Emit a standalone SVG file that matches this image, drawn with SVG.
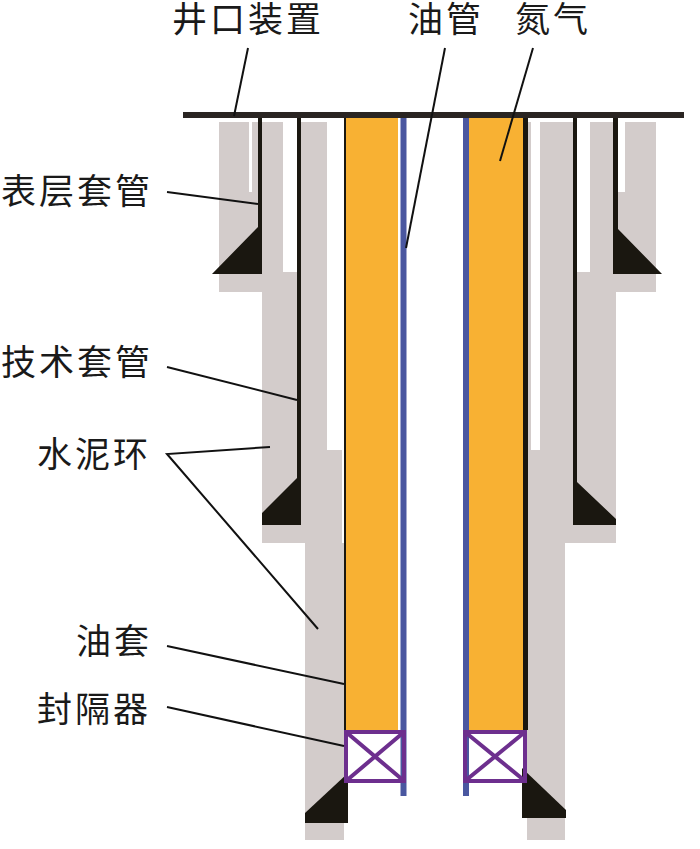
<svg xmlns="http://www.w3.org/2000/svg" width="700" height="849" viewBox="0 0 700 849">
<style>
.g{fill:#d3cccb}.o{fill:#f8b133}.b{fill:#4a57a0}.k{fill:#1a1710}
.p{fill:none;stroke:#6d2f8e;stroke-width:4}
.l{stroke:#111;stroke-width:2;fill:none}
text{font-family:"Liberation Serif","Noto Sans CJK SC","Noto Sans CJK JP",serif;font-size:35px;letter-spacing:3px;fill:#1a1a1a}
</style>
<rect width="700" height="849" fill="#fff"/>
<g id="cement">
<path class="g" d="M219 122H249V192H252V122H283V272H297V122H327V450H342V720H344V773L305 813V840H343V823H344V760H305V543H262V292H219Z"/>
<path class="g" d="M305 543H344V840H305Z"/>
<path class="g" d="M528 122H531V450H540V122H573V272H590V122H614V192H625V122H656V292H616V543H565V840H527V122Z"/>
</g>
<g id="wellhead"><rect x="183" y="112" width="501" height="6" fill="#2a2522"/></g>
<g id="surface-casing">
<path class="k" d="M258 118H262V274H212L258 227Z"/>
<path class="k" d="M613 118H618V229L662 274H613Z"/>
</g>
<g id="technical-casing">
<path class="k" d="M297 118H301V525H262V513L297 478Z"/>
<path class="k" d="M573 118H577V482L616 519V525H573Z"/>
</g>
<g id="production-casing">
<rect class="k" x="344" y="118" width="2.5" height="612"/>
<rect class="k" x="523" y="118" width="5" height="612"/>
<path class="k" d="M348 773V823H305V813Z"/>
<path class="k" d="M522 768L566 810V818H522Z"/>
</g>
<g id="nitrogen">
<rect class="o" x="346" y="118" width="52" height="612"/>
<rect class="o" x="469" y="118" width="54" height="612"/>
</g>
<g id="tubing">
<rect class="b" x="400.5" y="118" width="6" height="678"/>
<rect class="b" x="463" y="118" width="6" height="678"/>
</g>
<g id="packer-left">
<rect class="p" x="346" y="732" width="58" height="49"/>
<path class="p" d="M346 732L404 781M404 732L346 781"/>
</g>
<g id="packer-right">
<rect class="p" x="465" y="732" width="60" height="49"/>
<path class="p" d="M465 732L525 781M525 732L465 781"/>
</g>
<g id="connectors">
<path class="l" d="M248 48L234 116"/>
<path class="l" d="M445 48L406 248"/>
<path class="l" d="M533 48L500 161"/>
<path class="l" d="M167 192L258 204"/>
<path class="l" d="M167 367L297 400"/>
<path class="l" d="M270 447L167 454L318 629"/>
<path class="l" d="M167 646L344 684"/>
<path class="l" d="M167 707L344 746"/>
</g>
<g id="labels">
<text x="172" y="32">井口装置</text>
<text x="408" y="32">油管</text>
<text x="515" y="32">氮气</text>
<text x="1" y="204">表层套管</text>
<text x="1" y="375">技术套管</text>
<text x="37" y="467">水泥环</text>
<text x="76" y="654">油套</text>
<text x="37" y="722">封隔器</text>
</g>
</svg>
